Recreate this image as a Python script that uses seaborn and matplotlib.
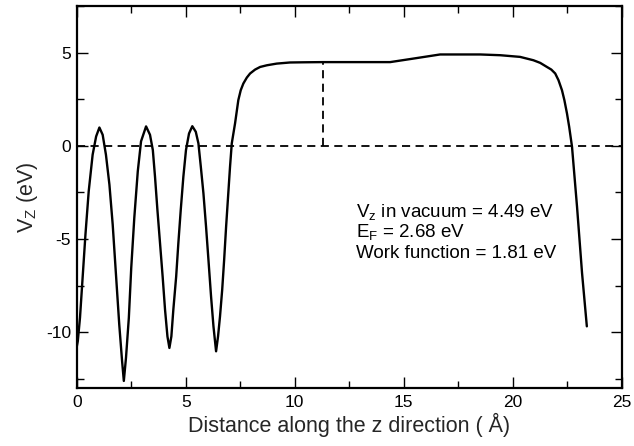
import matplotlib
matplotlib.use("Agg")
import matplotlib.pyplot as plt
import seaborn as sns
import pandas as pd
from matplotlib.ticker import MultipleLocator

# Planar-averaged potential along z
z_pos = [0.00, 0.05, 0.15, 0.27, 0.40, 0.55, 0.73, 0.89, 1.04, 1.19, 1.34, 1.50, 1.65, 1.80,
         1.95, 2.08, 2.16, 2.26, 2.39, 2.50, 2.64, 2.80, 2.95, 3.18, 3.36, 3.49, 3.59, 3.70,
         3.82, 3.94, 4.05, 4.16, 4.25, 4.34, 4.43, 4.56, 4.66, 4.77, 4.89, 5.01, 5.15, 5.30,
         5.46, 5.58, 5.69, 5.81, 5.93, 6.04, 6.16, 6.27, 6.39, 6.48, 6.57, 6.67, 6.76, 6.85,
         6.95, 7.03, 7.11, 7.26, 7.41, 7.52, 7.64, 7.80, 7.95, 8.18, 8.41, 8.72, 9.17, 9.78,
         10.39, 11.27, 14.37, 15.44, 16.66, 18.50, 19.42, 20.33, 20.94, 21.25, 21.56, 21.76,
         21.94, 22.09, 22.25, 22.36, 22.48, 22.58, 22.71, 22.94, 23.17, 23.39]
v_z = [-10.80, -10.48, -9.23, -7.09, -4.77, -2.44, -0.48, 0.50, 0.98, 0.59, -0.48, -2.09, -4.23, -6.91,
       -9.59, -11.55, -12.62, -11.37, -9.23, -6.55, -3.87, -1.37, 0.24, 1.04, 0.59, -0.23, -1.66, -3.44,
       -5.23, -7.02, -8.80, -10.23, -10.85, -10.23, -8.80, -7.02, -5.23, -3.44, -1.66, -0.23, 0.66, 1.05,
       0.75, 0.13, -1.12, -2.55, -4.34, -6.12, -8.09, -9.69, -11.03, -10.23, -9.16, -7.73, -6.12, -4.34,
       -2.55, -1.12, 0.13, 1.20, 2.45, 2.98, 3.34, 3.66, 3.88, 4.09, 4.23, 4.32, 4.41, 4.47,
       4.48, 4.49, 4.49, 4.68, 4.90, 4.90, 4.86, 4.77, 4.59, 4.45, 4.23, 4.09,
       3.88, 3.52, 2.98, 2.45, 1.73, 1.02, -0.05, -3.27, -6.83, -9.69]

fermi_level = 0.0
vacuum_x = 11.27
vacuum_level = 4.49
annotation_lines = ["V$_z$ in vacuum = 4.49 eV", "E$_F$ = 2.68 eV", "Work function = 1.81 eV"]
annotation_x = 12.81
annotation_y = [-3.80, -4.91, -6.03]
x_label = "Distance along the z direction ( \u00c5)"
y_label = "V$_Z$ (eV)"

df = pd.DataFrame({"z": z_pos, "V": v_z})

sns.set_style("ticks")
plt.rcParams["font.family"] = ["Liberation Sans", "DejaVu Sans"]
plt.rcParams["mathtext.fontset"] = "custom"
plt.rcParams["mathtext.rm"] = "Liberation Sans"
plt.rcParams["mathtext.it"] = "Liberation Sans"
plt.rcParams["mathtext.default"] = "regular"
plt.rcParams["axes.unicode_minus"] = False

fig = plt.figure(figsize=(6.34, 4.46), dpi=100)
ax = fig.add_axes([0.121, 0.130, 0.860, 0.8565])

sns.lineplot(data=df, x="z", y="V", sort=False, estimator=None, color="black", lw=1.7, ax=ax)
ax.axhline(fermi_level, color="black", lw=1.3, ls=(0, (4.5, 3)))
ax.vlines([vacuum_x], fermi_level, vacuum_level, color="black", lw=1.3, linestyles=[(0, (4.5, 3))])

ax.set_xlim(0, 25)
ax.set_ylim(-13, 7.5)
ax.xaxis.set_major_locator(MultipleLocator(5))
ax.xaxis.set_minor_locator(MultipleLocator(2.5))
ax.yaxis.set_major_locator(MultipleLocator(5))
ax.yaxis.set_minor_locator(MultipleLocator(2.5))
ax.tick_params(which="both", direction="in", top=True, right=True, width=1.0, colors="black",
               labelsize=12.5)
ax.tick_params(axis="x", which="both", pad=5)
ax.tick_params(axis="y", which="both", pad=4)
ax.tick_params(which="major", length=8)
ax.tick_params(which="minor", length=5)
for s in ax.spines.values():
    s.set_linewidth(1.6)
    s.set_color("black")

ax.set_xlabel(x_label, fontsize=15.5, labelpad=2)
ax.set_ylabel(y_label, fontsize=15.5, labelpad=4)

for line, yy in zip(annotation_lines, annotation_y):
    ax.text(annotation_x, yy, line, fontsize=13.5, va="baseline", ha="left", color="black")

fig.savefig("out.png", dpi=100)
